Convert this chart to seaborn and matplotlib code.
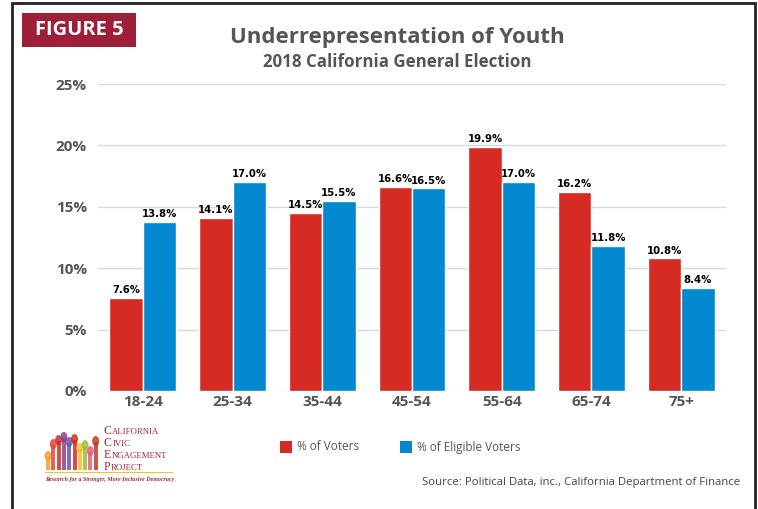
import matplotlib
matplotlib.use("Agg")
import matplotlib.pyplot as plt
import seaborn as sns
import pandas as pd
from matplotlib.patches import Rectangle, Ellipse

categories = ["18-24", "25-34", "35-44", "45-54", "55-64", "65-74", "75+"]
voters = [7.6, 14.1, 14.5, 16.6, 19.9, 16.2, 10.8]
eligible = [13.8, 17.0, 15.5, 16.5, 17.0, 11.8, 8.4]
series_names = ["% of Voters", "% of Eligible Voters"]
y_ticks = [0, 5, 10, 15, 20, 25]

RED = "#d52b22"
BLUE = "#0288cf"
GRAY = "#555555"

sns.set_theme(style="white")
plt.rcParams["font.family"] = ["Open Sans", "DejaVu Sans"]

df = pd.DataFrame({
    "Age": categories * 2,
    "Value": voters + eligible,
    "Series": [series_names[0]] * len(categories) + [series_names[1]] * len(categories),
})

fig = plt.figure(figsize=(7.58, 5.09), dpi=100)
ax = fig.add_axes([98 / 758, 1 - 391 / 509, (726 - 98) / 758, (391 - 84) / 509])

sns.barplot(data=df, x="Age", y="Value", hue="Series", order=categories,
            hue_order=series_names, palette=[RED, BLUE], saturation=1, width=0.745,
            edgecolor="white", linewidth=1.0, legend=False, ax=ax)

for cont in ax.containers:
    ax.bar_label(cont, labels=[f"{v:.1f}%" for v in cont.datavalues], padding=2,
                 fontsize=7.3, fontweight="bold", color="black", family="DejaVu Sans")

ax.set_ylim(0, 25)
ax.set_xlim(-0.5, len(categories) - 0.5)
ax.set_yticks(y_ticks)
ax.set_yticklabels([f"{t}%" for t in y_ticks])
ax.yaxis.grid(True, color="#d9d9d9", linewidth=1)
ax.set_axisbelow(True)
for s in ax.spines.values():
    s.set_visible(False)
ax.tick_params(axis="both", length=0, labelsize=11, labelcolor=GRAY)
ax.tick_params(axis="y", pad=8)
ax.tick_params(axis="x", pad=3)
for lab in ax.get_xticklabels() + ax.get_yticklabels():
    lab.set_fontweight("bold")
ax.set_xlabel("")
ax.set_ylabel("")

# Border
fig.patches.append(Rectangle((12 / 758, -0.02), (755 - 12) / 758, (1 - 3 / 509) + 0.02,
                             transform=fig.transFigure, fill=False, edgecolor="#222222",
                             linewidth=2))

# FIGURE 5 box
fig.patches.append(Rectangle((22 / 758, 1 - 47 / 509), (136 - 22) / 758, 34 / 509,
                             transform=fig.transFigure, facecolor="#a01f38", edgecolor="none"))
fig.text(79 / 758, 1 - 30 / 509, "FIGURE 5", color="white", fontsize=14.5,
         fontweight="bold", ha="center", va="center")

fig.text(397 / 758, 1 - 38 / 509, "Underrepresentation of Youth", color=GRAY,
         fontsize=16, fontweight="bold", ha="center", va="center")
fig.text(397 / 758, 1 - 62 / 509, "2018 California General Election", color=GRAY,
         fontsize=12.2, fontweight="bold", ha="center", va="center")

# Legend
for xpos, col, name in [(280, RED, series_names[0]), (400, BLUE, series_names[1])]:
    fig.patches.append(Rectangle((xpos / 758, 1 - 453 / 509), 12 / 758, 12 / 509,
                                 transform=fig.transFigure, facecolor=col, edgecolor="none"))
    fig.text((xpos + 17) / 758, 1 - 447 / 509, name, color=GRAY, fontsize=8.5,
             ha="left", va="center")

fig.text(740 / 758, 1 - 482 / 509, "Source: Political Data, inc., California Department of Finance",
         color="#444444", fontsize=8.2, ha="right", va="center")

# Logo approximation: raised hands
hand_cols = ["#f0a030", "#e8443a", "#c9302c", "#8e3f8c", "#6a5aa8", "#d62a22",
             "#f2c12e", "#9bbf3b", "#e85d75", "#c0392b"]
tops = [452, 440, 436, 433, 438, 435, 444, 441, 447, 437]
for i, c in enumerate(hand_cols):
    xc = 48 + i * 5.3
    top = tops[i]
    fig.patches.append(Rectangle(((xc - 2) / 758, 1 - 470 / 509), 4 / 758, (470 - top - 5) / 509,
                                 transform=fig.transFigure, facecolor=c, edgecolor="none", alpha=0.85))
    fig.patches.append(Ellipse((xc / 758, 1 - (top + 4) / 509), 7 / 758, 10 / 509,
                               transform=fig.transFigure, facecolor=c, edgecolor="none", alpha=0.85))
fig.patches.append(Rectangle((45 / 758, 1 - 473 / 509), 128 / 758, 1.2 / 509,
                             transform=fig.transFigure, facecolor="#f2c12e", edgecolor="none"))

renderer = fig.canvas.get_renderer()
for j, word in enumerate(["CALIFORNIA", "CIVIC", "ENGAGEMENT", "PROJECT"]):
    yy = 1 - (434 + j * 12) / 509
    t1 = fig.text(104 / 758, yy, word[0], color="#a3262a", fontsize=8.5,
                  family="Liberation Serif", ha="left", va="baseline")
    bb = t1.get_window_extent(renderer=renderer)
    fig.text((bb.x1 + 0.5) / 758, yy, word[1:], color="#a3262a", fontsize=6.3,
             family="Liberation Serif", ha="left", va="baseline")
fig.text(45 / 758, 1 - 480 / 509, "Research for a Stronger, More Inclusive Democracy",
         color="#a3262a", fontsize=4.3, family="Liberation Serif", style="italic",
         fontweight="bold", ha="left", va="center")

fig.savefig("out.png", dpi=100, facecolor="white")
